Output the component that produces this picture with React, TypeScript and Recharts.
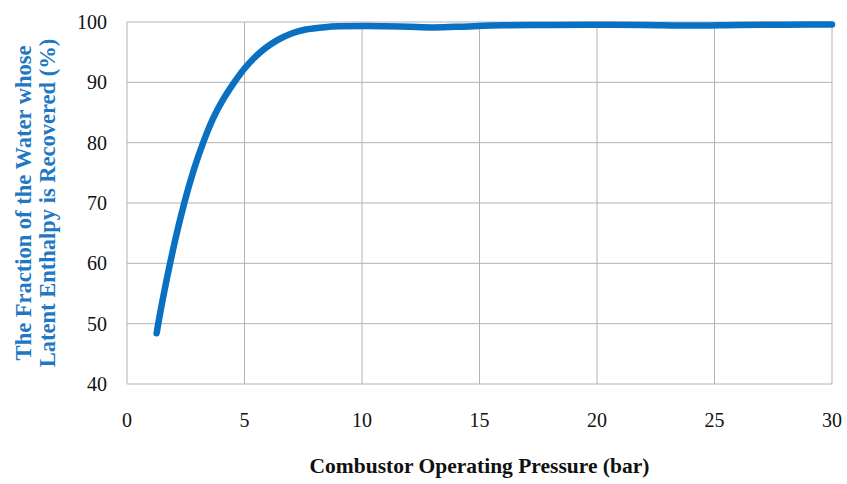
import { LineChart, Line, XAxis, YAxis, CartesianGrid } from "recharts"

// values (pressure in bar, fraction in %)
const PRESSURE = [
  1.26, 1.33, 1.6, 1.85, 2.1, 2.45, 2.85, 3.25, 3.65, 4.1, 4.6, 5.0, 5.4, 5.9, 6.4, 7.0, 7.6, 8.3, 9.0,
  10.2, 11, 12, 13, 14, 16, 18, 20, 22, 24, 26, 28, 30,
]
const FRACTION = [
  48.4, 50, 55.6, 60.3, 64.7, 70.2, 75.6, 80.1, 83.9, 87.2, 90.2, 92.3, 94.0, 95.7, 97.0, 98.1, 98.75,
  99.1, 99.3, 99.35, 99.3, 99.2, 99.1, 99.2, 99.45, 99.5, 99.55, 99.5, 99.4, 99.5, 99.55, 99.6,
]
const X_TICKS = [0, 5, 10, 15, 20, 25, 30]
const Y_TICKS = [40, 50, 60, 70, 80, 90, 100]

const data = PRESSURE.map((p, i) => ({ p, f: FRACTION[i] }))

const SERIF = "'Liberation Serif', 'Times New Roman', serif"
const BLUE = "#0a70c2"
const LABEL_BLUE = "#1f78c4"

function YTitle({ viewBox }: { viewBox?: { x: number; y: number; width: number; height: number } }) {
  if (!viewBox) return null
  const cy = viewBox.y + viewBox.height / 2
  return (
    <g fontFamily={SERIF} fontWeight="bold" fontSize={22.5} fill={LABEL_BLUE} textAnchor="middle">
      <text x={23} y={cy} dy="0.35em" transform={`rotate(-90 23 ${cy})`}>
        The Fraction of the Water whose
      </text>
      <text x={47.5} y={cy} dy="0.35em" transform={`rotate(-90 47.5 ${cy})`}>
        Latent Enthalpy is Recovered (%)
      </text>
    </g>
  )
}

export default function App() {
  return (
    <div style={{ position: "fixed", left: 0, top: 0, width: 847, height: 484, background: "#fff" }}>
      <LineChart width={847} height={484} data={data} margin={{ top: 22, right: 15, bottom: 0, left: 0 }}>
        <CartesianGrid stroke="#b3b3b3" strokeWidth={1} />
        <XAxis
          dataKey="p"
          type="number"
          domain={[0, 30]}
          ticks={X_TICKS}
          height={100}
          axisLine={false}
          tickLine={false}
          tickSize={0}
          tickMargin={29}
          tick={{ fontSize: 20, fill: "#111", fontFamily: SERIF }}
          label={{
            value: "Combustor Operating Pressure (bar)",
            position: "insideBottom",
            offset: 11,
            style: { fontSize: 21.5, fontWeight: "bold", fill: "#111", fontFamily: SERIF },
          }}
        />
        <YAxis
          type="number"
          domain={[40, 100]}
          ticks={Y_TICKS}
          width={127}
          axisLine={false}
          tickLine={false}
          tickSize={0}
          tickMargin={20}
          tick={{ fontSize: 20, fill: "#111", fontFamily: SERIF }}
          label={<YTitle />}
        />
        <Line
          dataKey="f"
          type="monotone"
          stroke={BLUE}
          strokeWidth={6.5}
          strokeLinecap="round"
          dot={false}
          isAnimationActive={false}
        />
      </LineChart>
    </div>
  )
}
